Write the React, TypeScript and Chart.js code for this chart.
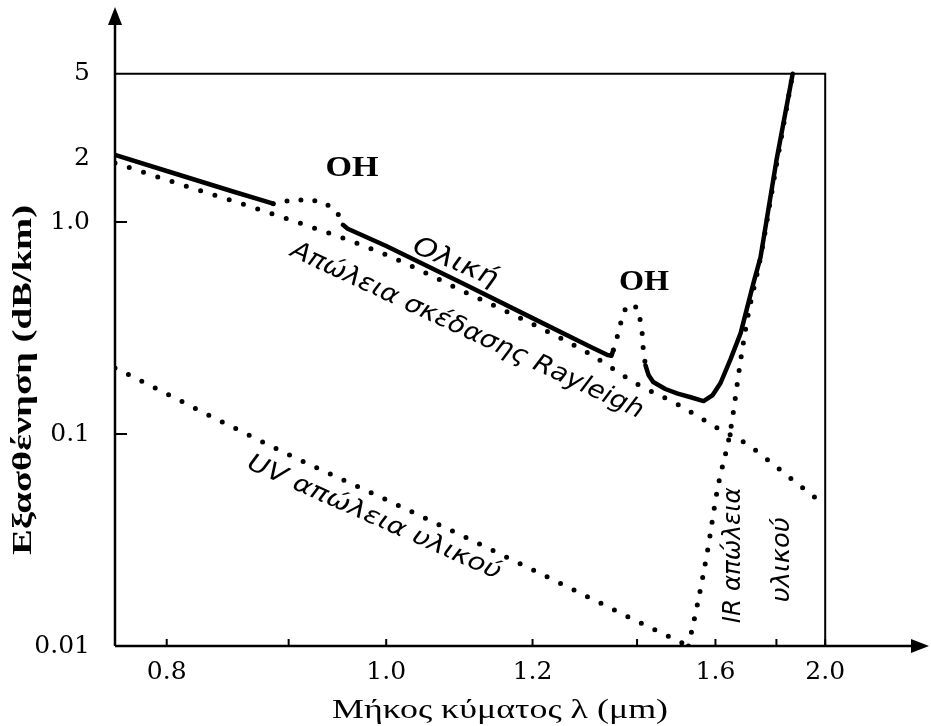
import React, { useEffect, useRef } from 'react';
import { Chart, registerables } from 'chart.js';

Chart.register(...registerables);

// ---- axis ticks ----
const xTickLambda = [0.8, 0.9, 1.0, 1.2, 1.4, 1.6, 1.8, 2.0];
const xTickLabels = ['0.8', '', '1.0', '1.2', '', '1.6', '', '2.0'];
const xAxisLambdaStart = 0.764;
const xAxisLambdaEnd = 2.5;
const yTickValues = [0.01, 0.1, 1, 2, 5];
const yTickLabels = ['0.01', '0.1', '1.0', '2', '5'];
const yMarkValues = [0.1, 1];
const yAxisMin = 0.01;
const yAxisMax = 10;
const frameLambda = 2.0;
const frameTop = 5;

// ---- total loss (solid, with dotted OH peaks) ----
const totalLambda = [0.764, 0.8, 0.85, 0.886, 0.896, 0.906, 0.922, 0.937, 0.948, 0.953, 0.958, 1.0, 1.1, 1.2, 1.3, 1.337,
  1.345, 1.349, 1.357, 1.37, 1.378, 1.386, 1.401, 1.408, 1.412, 1.414, 1.419, 1.426, 1.437, 1.466, 1.497, 1.531, 1.566,
  1.591, 1.615, 1.645, 1.677, 1.719, 1.743, 1.8, 1.862];
const totalLoss = [2.07, 1.74, 1.4, 1.22, 1.25, 1.27, 1.27, 1.21, 1.09, 0.97, 0.93, 0.77, 0.505, 0.352, 0.26, 0.236,
  0.234, 0.249, 0.287, 0.373, 0.4, 0.41, 0.393, 0.337, 0.293, 0.249, 0.211, 0.19, 0.176, 0.163, 0.155, 0.149, 0.143,
  0.152, 0.174, 0.225, 0.299, 0.515, 0.68, 1.95, 5.0];
const ohRanges = [[0.886, 0.953], [1.349, 1.419]];

// ---- Rayleigh scattering loss ----
const rayleighLambda = [0.764, 0.8, 0.9, 1.0, 1.1, 1.2, 1.3, 1.4, 1.5, 1.6, 1.7, 1.8, 1.9, 2.0];
const rayleighLoss = [1.9, 1.58, 1.03, 0.7, 0.465, 0.33, 0.24, 0.172, 0.137, 0.108, 0.089, 0.07, 0.056, 0.046];

// ---- UV material loss ----
const uvLambda = [0.764, 0.9, 1.0, 1.2, 1.4, 1.51];
const uvLoss = [0.205, 0.08, 0.049, 0.0229, 0.0131, 0.0103];

// ---- IR material loss ----
const irLambda = [1.525, 1.55, 1.577, 1.606, 1.645, 1.677, 1.7, 1.743, 1.8, 1.862];
const irLoss = [0.01, 0.016, 0.028, 0.055, 0.104, 0.223, 0.356, 0.68, 1.85, 5.0];

// ---- annotations (text, anchor in data coordinates) ----
const annotTexts = ['OH', 'OH', 'Ολική', 'Απώλεια σκέδασης Rayleigh', 'UV απώλεια υλικού', 'IR απώλεια', 'υλικού'];
const annotLambda = [0.9625, 1.4156, 1.085, 1.1013, 0.9862, 1.655, 1.821];
const annotValue = [1.8, 0.521, 0.641, 0.306, 0.0402, 0.0268, 0.0255];

const xTitle = 'Μήκος κύματος λ (μm)';
const yTitle = 'Εξασθένηση (dB/km)';

// styles for annotations: [font, angle, width]
const annotStyles: [string, number, number][] = [
  ['bold 30px "Liberation Serif"', 0, 53],
  ['bold 30px "Liberation Serif"', 0, 50],
  ['italic 26px "DejaVu Sans"', 23, 90],
  ['italic 25px "DejaVu Sans"', 25, 386],
  ['italic 24px "DejaVu Sans"', 24, 275],
  ['italic 25px "DejaVu Sans"', -90, 136],
  ['italic 25px "DejaVu Sans"', -90, 85],
];

const pts = (ls: number[], vs: number[]) => ls.map((l, i) => ({ x: 1 / l, y: vs[i] }));

function fitText(ctx: CanvasRenderingContext2D, text: string, x: number, y: number, angle: number, font: string, width: number) {
  ctx.save();
  ctx.font = font;
  const w = ctx.measureText(text).width;
  ctx.translate(x, y);
  ctx.rotate((angle * Math.PI) / 180);
  ctx.scale(width / w, 1);
  ctx.textAlign = 'center';
  ctx.textBaseline = 'middle';
  ctx.fillStyle = '#000';
  ctx.fillText(text, 0, 0);
  ctx.restore();
}

const decorPlugin = {
  id: 'decor',
  afterDraw(chart: any) {
    const ctx: CanvasRenderingContext2D = chart.ctx;
    const xs = chart.scales.x;
    const ys = chart.scales.y;
    const { left, right, top, bottom } = chart.chartArea;
    ctx.save();
    ctx.strokeStyle = '#000';
    ctx.fillStyle = '#000';
    ctx.lineCap = 'butt';
    // axes
    ctx.lineWidth = 2.5;
    ctx.beginPath();
    ctx.moveTo(left, bottom);
    ctx.lineTo(left, top + 8);
    ctx.moveTo(left, bottom);
    ctx.lineTo(right, bottom);
    ctx.stroke();
    // arrowheads
    ctx.beginPath();
    ctx.moveTo(left, top - 3);
    ctx.lineTo(left - 7, top + 15);
    ctx.lineTo(left + 7, top + 15);
    ctx.closePath();
    ctx.fill();
    ctx.beginPath();
    ctx.moveTo(right + 16, bottom);
    ctx.lineTo(right - 2, bottom - 7);
    ctx.lineTo(right - 2, bottom + 7);
    ctx.closePath();
    ctx.fill();
    // frame
    const fx = xs.getPixelForValue(1 / frameLambda);
    const fy = ys.getPixelForValue(frameTop);
    ctx.lineWidth = 2;
    ctx.beginPath();
    ctx.moveTo(left, fy);
    ctx.lineTo(fx, fy);
    ctx.lineTo(fx, bottom);
    ctx.stroke();
    // inward tick marks
    ctx.lineWidth = 2;
    ctx.beginPath();
    yMarkValues.forEach((v) => {
      const py = ys.getPixelForValue(v);
      ctx.moveTo(left, py);
      ctx.lineTo(left + 12, py);
    });
    xTickLambda.forEach((l) => {
      const px = xs.getPixelForValue(1 / l);
      ctx.moveTo(px, bottom);
      ctx.lineTo(px, bottom - 7);
    });
    ctx.stroke();
    ctx.restore();

    // annotations
    annotTexts.forEach((t, i) => {
      const px = xs.getPixelForValue(1 / annotLambda[i]);
      const py = ys.getPixelForValue(annotValue[i]);
      const [font, angle, width] = annotStyles[i];
      fitText(ctx, t, px, py, angle, font, width);
    });
    // axis titles
    fitText(ctx, xTitle, left + 385, bottom + 65, 0, '28px "Liberation Serif"', 336);
    fitText(ctx, yTitle, 24, 380, -90, 'bold 27px "Liberation Serif"', 350);
  },
};

export default function App() {
  const ref = useRef<HTMLCanvasElement | null>(null);
  useEffect(() => {
    if (!ref.current) return;
    const dotted = [0, 15];
    const inOH = (i0: number, i1: number) =>
      ohRanges.some(([a, b]) => totalLambda[i0] >= a - 1e-9 && totalLambda[i1] <= b + 1e-9);
    const common = {
      borderColor: '#000',
      borderWidth: 5,
      borderCapStyle: 'round',
      borderJoinStyle: 'round',
      pointRadius: 0,
      fill: false,
      cubicInterpolationMode: 'monotone',
    };
    const chart = new Chart(ref.current, {
      type: 'line',
      data: {
        datasets: [
          {
            ...common,
            label: 'Ολική',
            data: pts(totalLambda, totalLoss),
            cubicInterpolationMode: 'default',
            tension: 0,
            borderWidth: 4.5,
            segment: {
              borderDash: (c: any) => (inOH(c.p0DataIndex, c.p1DataIndex) ? [0, 14] : undefined),
              borderWidth: (c: any) => (inOH(c.p0DataIndex, c.p1DataIndex) ? 5 : undefined),
            },
          } as any,
          { ...common, label: 'Rayleigh', data: pts(rayleighLambda, rayleighLoss), borderDash: dotted } as any,
          { ...common, label: 'UV', data: pts(uvLambda, uvLoss), borderDash: dotted } as any,
          { ...common, label: 'IR', data: pts(irLambda, irLoss), borderDash: [0, 14] } as any,
        ],
      },
      options: {
        responsive: false,
        animation: false,
        events: [],
        layout: { padding: { left: 0, top: 10, right: 18, bottom: 0 } },
        plugins: { legend: { display: false }, tooltip: { enabled: false }, title: { display: false } },
        scales: {
          x: {
            type: 'linear',
            reverse: true,
            min: 1 / xAxisLambdaEnd,
            max: 1 / xAxisLambdaStart,
            grid: { display: false, drawTicks: false },
            border: { display: false },
            afterBuildTicks: (s: any) => {
              s.ticks = xTickLambda.map((l) => ({ value: 1 / l }));
            },
            afterFit: (s: any) => {
              s.height = 80;
              s.paddingLeft = 0;
              s.paddingRight = 0;
            },
            ticks: {
              autoSkip: false,
              maxRotation: 0,
              minRotation: 0,
              padding: 11,
              color: '#000',
              font: { family: '"DejaVu Serif"', size: 25 },
              callback: (v: any) => {
                const i = xTickLambda.findIndex((l) => Math.abs(1 / l - Number(v)) < 1e-6);
                return i >= 0 ? xTickLabels[i] : '';
              },
            },
          },
          y: {
            type: 'logarithmic',
            min: yAxisMin,
            max: yAxisMax,
            grid: { display: false, drawTicks: false },
            border: { display: false },
            afterBuildTicks: (s: any) => {
              s.ticks = yTickValues.map((v) => ({ value: v }));
            },
            afterFit: (s: any) => {
              s.width = 115;
              s.paddingTop = 0;
              s.paddingBottom = 0;
            },
            ticks: {
              autoSkip: false,
              padding: 25,
              color: '#000',
              font: { family: '"DejaVu Serif"', size: 25 },
              callback: (v: any) => {
                const i = yTickValues.findIndex((t) => Math.abs(t - Number(v)) < 1e-9);
                return i >= 0 ? yTickLabels[i] : '';
              },
            },
          },
        },
      } as any,
      plugins: [decorPlugin],
    });
    return () => chart.destroy();
  }, []);
  return (
    <div style={{ position: 'fixed', left: 0, top: 0, width: 931, height: 726, background: '#fff' }}>
      <canvas ref={ref} width={931} height={726} />
    </div>
  );
}
